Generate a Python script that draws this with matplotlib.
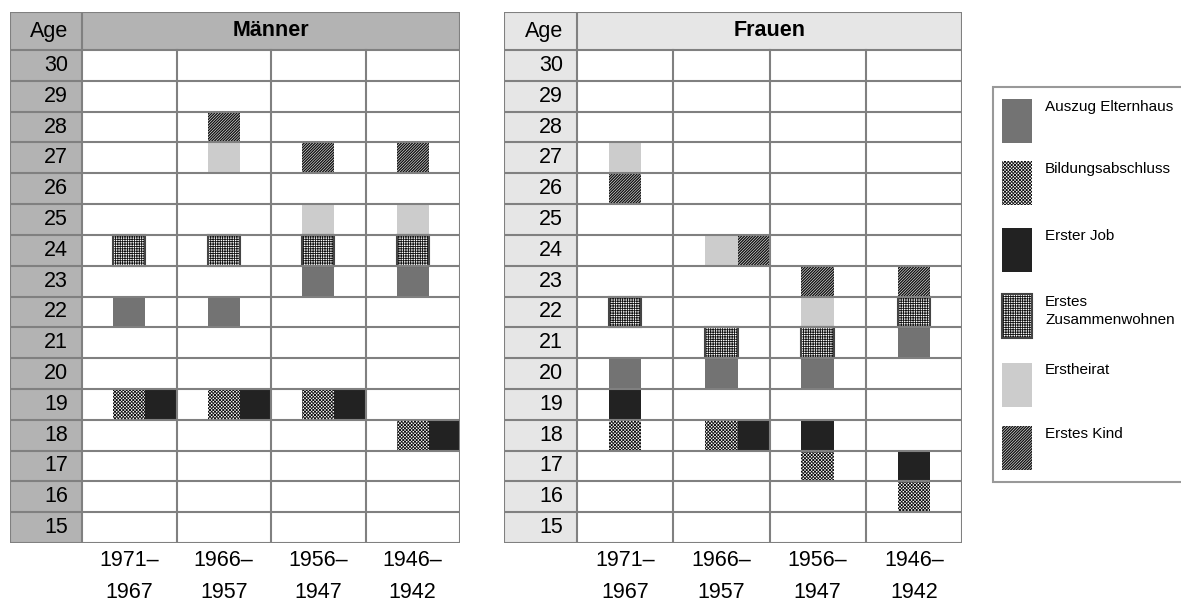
import matplotlib
matplotlib.use("Agg")
import matplotlib.pyplot as plt
from matplotlib.patches import Rectangle

plt.rcParams['font.family'] = ['Liberation Sans', 'DejaVu Sans']
plt.rcParams['hatch.linewidth'] = 0.6

# ---------------- data ----------------
ages = list(range(15, 31))
cohorts_top = ["1971–", "1966–", "1956–", "1946–"]
cohorts_bottom = ["1967", "1957", "1947", "1942"]
events = ["Auszug Elternhaus", "Bildungsabschluss", "Erster Job",
          "Erstes\nZusammenwohnen", "Erstheirat", "Erstes Kind"]

# age at each event, per cohort (None = not shown)
men_auszug = [22, 22, 23, 23]
men_bildung = [19, 19, 19, 18]
men_job = [19, 19, 19, 18]
men_zusammen = [24, 24, 24, 24]
men_heirat = [None, 27, 25, 25]
men_kind = [None, 28, 27, 27]

women_auszug = [20, 20, 20, 21]
women_bildung = [18, 18, 17, 16]
women_job = [19, 18, 18, 17]
women_zusammen = [22, 21, 21, 22]
women_heirat = [27, 24, 22, None]
women_kind = [26, 24, 23, 23]

men = [men_auszug, men_bildung, men_job, men_zusammen, men_heirat, men_kind]
women = [women_auszug, women_bildung, women_job, women_zusammen, women_heirat, women_kind]

# ---------------- styles ----------------
styles = [
    dict(facecolor='#737373', edgecolor='none', hatch=None, hlw=0.6),
    dict(facecolor='white', edgecolor='#111111', hatch='xxxxxxxxxx', hlw=0.6),
    dict(facecolor='#222222', edgecolor='none', hatch=None, hlw=0.6),
    dict(facecolor='white', edgecolor='#111111', hatch='+++++++', hlw=0.6,
         border='#444444'),
    dict(facecolor='#cccccc', edgecolor='none', hatch=None, hlw=0.6),
    dict(facecolor='white', edgecolor='#111111', hatch='////////////', hlw=1.0),
]

GRID = '#808080'
FS = 15.5
W, H = 1181, 601
fig = plt.figure(figsize=(W / 100, H / 100), dpi=100)


def add_marker(ax, x, y, w, h, st, zorder=2):
    with plt.rc_context({'hatch.linewidth': st['hlw']}):
        r = Rectangle((x, y), w, h, facecolor=st['facecolor'],
                      edgecolor=st['edgecolor'], hatch=st['hatch'],
                      linewidth=0, zorder=zorder)
    if hasattr(r, 'set_hatch_linewidth'):
        r.set_hatch_linewidth(st['hlw'])
    ax.add_patch(r)
    if st.get('border'):
        ax.add_patch(Rectangle((x, y), w, h, facecolor='none',
                               edgecolor=st['border'], linewidth=1.5,
                               zorder=zorder + 0.1))


def draw_table(left_px, right_px, age_w_px, title, shade, data):
    top_px, bot_px, head_px = 12, 543, 50
    n_rows = len(ages)
    row_px = (bot_px - head_px) / n_rows
    col_px = (right_px - left_px - age_w_px) / 4
    w_age = age_w_px / col_px
    h_head = (head_px - top_px) / row_px
    ax = fig.add_axes([left_px / W, (H - bot_px) / H,
                       (right_px - left_px) / W, (bot_px - top_px) / H])
    ax.set_xlim(-w_age, 4)
    ax.set_ylim(0, n_rows + h_head)
    ax.axis('off')

    # shaded age column and header
    ax.add_patch(Rectangle((-w_age, 0), w_age, n_rows, facecolor=shade,
                           edgecolor='none', zorder=0))
    ax.add_patch(Rectangle((-w_age, n_rows), 4 + w_age, h_head,
                           facecolor=shade, edgecolor='none', zorder=0))

    # markers
    mw = 0.337
    for c in range(4):
        slots = {}
        for e, ev_ages in enumerate(data):
            a = ev_ages[c]
            if a is None:
                continue
            k = slots.get(a, 0)
            slots[a] = k + 1
            x = c + 0.5 - mw / 2 + k * mw
            add_marker(ax, x, a - ages[0], mw, 1, styles[e])

    # grid
    lw = 1.5
    for i in range(n_rows + 1):
        ax.plot([-w_age, 4], [i, i], color=GRID, lw=lw, zorder=5,
                solid_capstyle='projecting')
    ax.plot([-w_age, 4], [n_rows + h_head] * 2, color=GRID, lw=lw, zorder=5,
            solid_capstyle='projecting')
    for xv in [-w_age, 0, 4]:
        ax.plot([xv, xv], [0, n_rows + h_head], color=GRID, lw=lw, zorder=5,
                solid_capstyle='projecting')
    for xv in [1, 2, 3]:
        ax.plot([xv, xv], [0, n_rows], color=GRID, lw=lw, zorder=5)

    # texts
    pad = 14 / col_px
    ax.text(-pad, n_rows + h_head / 2, "Age", ha='right', va='center',
            fontsize=FS, zorder=6)
    ax.text(2, n_rows + h_head / 2, title, ha='center', va='center',
            fontsize=FS, fontweight='bold', zorder=6)
    for a in ages:
        ax.text(-pad, a - ages[0] + 0.5, str(a), ha='right', va='center',
                fontsize=FS, zorder=6)
    for c in range(4):
        ax.text(c + 0.5, -18 / row_px, cohorts_top[c], ha='center',
                va='center', fontsize=FS, clip_on=False)
        ax.text(c + 0.5, -49 / row_px, cohorts_bottom[c], ha='center',
                va='center', fontsize=FS, clip_on=False)


draw_table(10, 460, 72, "Männer", '#b3b3b3', men)
draw_table(504, 962, 73, "Frauen", '#e6e6e6', women)

# ---------------- legend (pixel overlay) ----------------
lg = fig.add_axes([0, 0, 1, 1], zorder=-1)
lg.set_xlim(0, W)
lg.set_ylim(H, 0)
lg.axis('off')
lg.add_patch(Rectangle((993, 87), 200, 395, facecolor='white',
                       edgecolor='#999999', linewidth=1.5))
sw_tops = [99, 161, 228, 294, 363, 426]
for e, t in enumerate(sw_tops):
    add_marker(lg, 1002, t, 30, 44, styles[e], zorder=3)
    lg.text(1045, t + 0.5, events[e], ha='left', va='top', fontsize=11,
            linespacing=1.45)

fig.savefig("out.png", dpi=100)
